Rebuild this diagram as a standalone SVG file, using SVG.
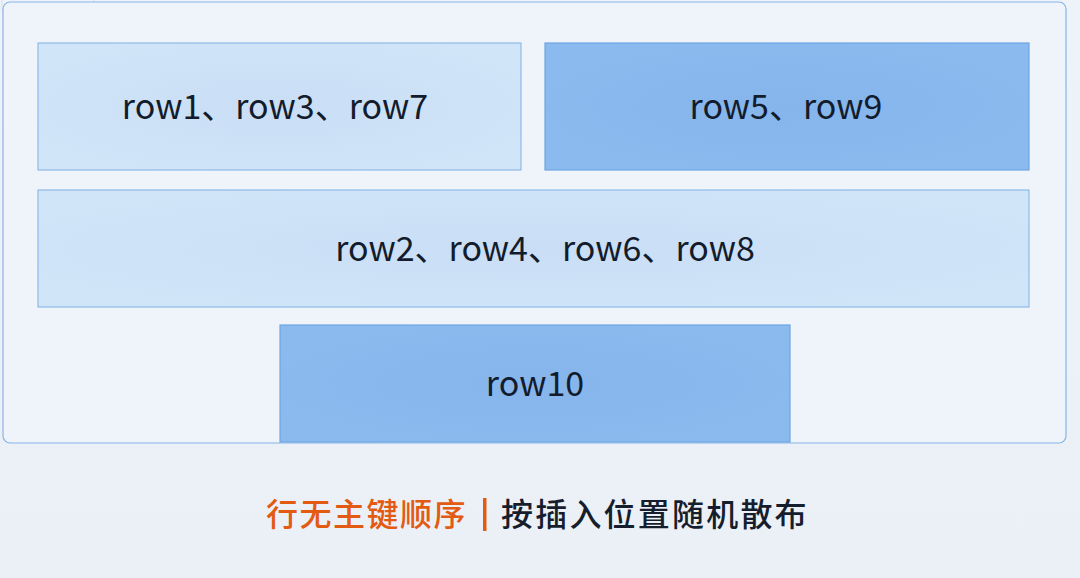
<svg xmlns="http://www.w3.org/2000/svg" width="1080" height="578" viewBox="0 0 1080 578">
  <defs>
    <linearGradient id="bg" x1="0" y1="0" x2="0" y2="1">
      <stop offset="0" stop-color="#eef3f9"/>
      <stop offset="1" stop-color="#ebf0f6"/>
    </linearGradient>
    <radialGradient id="light" cx="0.5" cy="0.5" r="0.6">
      <stop offset="0" stop-color="#c9def5"/>
      <stop offset="1" stop-color="#d0e5f8"/>
    </radialGradient>
    <radialGradient id="dark" cx="0.5" cy="0.5" r="0.6">
      <stop offset="0" stop-color="#86b5ec"/>
      <stop offset="1" stop-color="#8bbaef"/>
    </radialGradient>
  </defs>
  <style>
    .light { fill: url(#light); stroke: #8dbbe8; stroke-width: 1.2; }
    .dark { fill: url(#dark); stroke: #6ea5e2; stroke-width: 1.2; }
    .lbl { font-family: "Noto Sans CJK SC", "Noto Sans", sans-serif; font-size: 34px; fill: #131c2c; text-anchor: middle; }
    .cap { font-family: "Noto Sans CJK SC", sans-serif; font-size: 32px; font-weight: 500; }
  </style>
  <rect width="1080" height="578" fill="url(#bg)"/>
  <rect x="2" y="-12" width="92" height="25" rx="5" fill="none" stroke="#dfe6ee" stroke-width="1.5"/>
  <g id="container">
    <rect x="3" y="2" width="1063" height="441" rx="7" fill="#eff4fa" stroke="#86b4e4" stroke-width="1.2"/>
  </g>
  <g id="connectors"/>
  <g id="node-r137">
    <rect class="light" x="38" y="43" width="483" height="127"/>
    <text class="lbl" x="275" y="119">row1、row3、row7</text>
  </g>
  <g id="node-r59">
    <rect class="dark" x="545" y="43" width="484" height="127"/>
    <text class="lbl" x="786" y="119">row5、row9</text>
  </g>
  <g id="node-r2468">
    <rect class="light" x="38" y="190" width="991" height="117"/>
    <text class="lbl" x="545" y="261">row2、row4、row6、row8</text>
  </g>
  <g id="node-r10">
    <rect class="dark" x="280" y="325" width="510" height="117"/>
    <text class="lbl" x="535" y="396">row10</text>
  </g>
  <g id="caption">
    <text class="cap" x="266" y="526" fill="#e35a12" letter-spacing="1.5">行无主键顺序</text>
    <rect x="483" y="498" width="3.5" height="33" fill="#e35a12"/>
    <text class="cap" x="501" y="526" fill="#161e2e" letter-spacing="2.2">按插入位置随机散布</text>
  </g>
</svg>
